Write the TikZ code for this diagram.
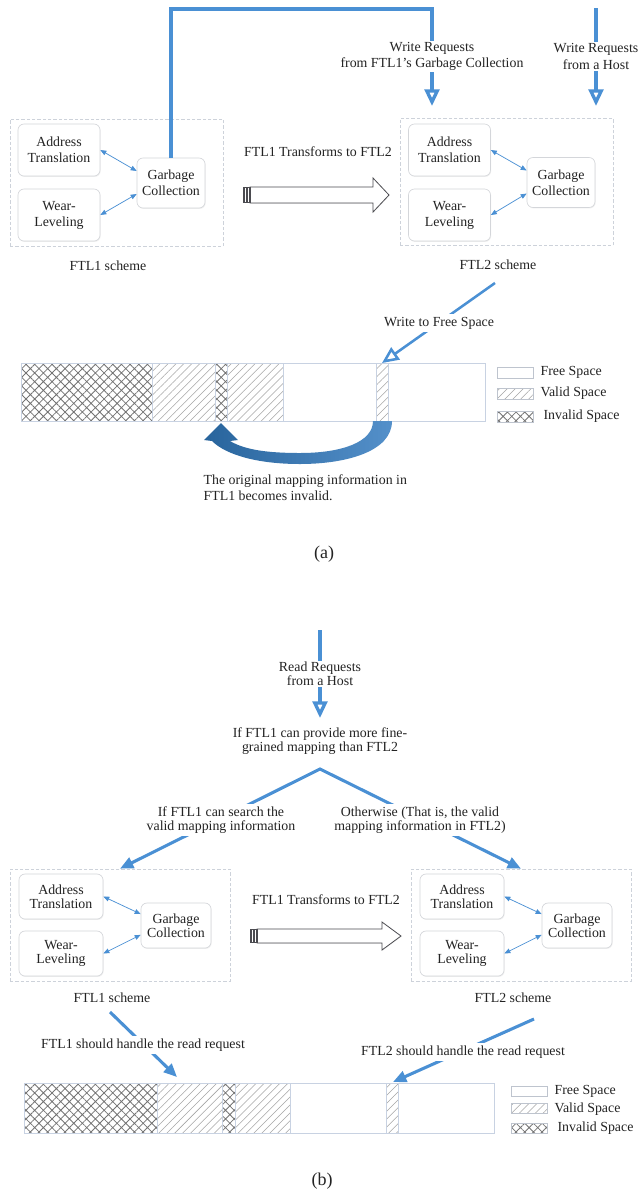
\documentclass[tikz,border=0pt]{standalone}
\usepackage{fontspec}
\setmainfont{Liberation Serif}
\usetikzlibrary{arrows.meta,patterns.meta,shadows,calc}

\definecolor{lineblue}{RGB}{74,144,212}
\definecolor{boxline}{RGB}{212,214,218}
\definecolor{dashc}{RGB}{205,210,218}
\definecolor{txtc}{RGB}{35,35,35}
\definecolor{bigdark}{RGB}{40,100,156}
\definecolor{biglight}{RGB}{84,144,202}
\definecolor{barline}{RGB}{200,210,226}
\definecolor{validc}{RGB}{165,165,165}
\definecolor{invalidc}{RGB}{115,115,115}
\definecolor{fatc}{RGB}{75,75,80}
\definecolor{keyline}{RGB}{190,196,206}

\begin{document}
\begin{tikzpicture}[x=0.75pt,y=-0.75pt,
  lbl/.style={font=\fontsize{10.4}{12.4}\selectfont, text=txtc, align=center, inner sep=1pt},
  lblb/.style={lbl, font=\fontsize{10.4}{10.5}\selectfont},
  cutout/.style={fill=white, inner sep=2pt},
  unit/.style={draw=boxline, line width=0.5pt, rounded corners=4.5pt, fill=white,
    align=center, text=txtc, inner sep=1pt,
    drop shadow={opacity=0.12, shadow xshift=0.5pt, shadow yshift=-0.7pt}},
  unita/.style={unit, font=\fontsize{10.4}{12}\selectfont, minimum width=61.5pt, minimum height=39pt},
  gca/.style={unita, minimum width=51pt, minimum height=37.5pt},
  unitb/.style={unit, font=\fontsize{10.4}{10.5}\selectfont, minimum width=63pt, minimum height=33.75pt},
  gcb/.style={unitb, minimum width=52.5pt},
  holder/.style={draw=dashc, line width=0.5pt, dash pattern=on 2.5pt off 1.5pt, inner sep=0pt},
  holdera/.style={holder, minimum width=159.75pt, minimum height=95.5pt},
  holderb/.style={holder, minimum width=165pt, minimum height=84pt},
  flow/.style={draw=lineblue, line width=2.5pt},
  openflow/.style={flow, -{Triangle[open, length=12.5pt, width=11pt]}},
  solidflow/.style={flow, line width=2.3pt, -{Triangle[length=10pt, width=8.5pt]}},
  link/.style={draw=lineblue, line width=0.55pt,
    {Triangle[length=4.5pt,width=3.6pt]}-{Triangle[length=4.5pt,width=3.6pt]}},
  fatarrow/.style={draw=fatc, line width=0.6pt, fill=white,
    drop shadow={opacity=0.1, shadow xshift=0.4pt, shadow yshift=-0.6pt}},
  gripblock/.style={fill=fatc},
  gripgap/.style={draw=white, line width=0.5pt},
  seg/.style={draw=barline, line width=0.5pt},
  validfill/.style={pattern={Lines[angle=45,distance=4.2pt,line width=0.4pt]}, pattern color=validc},
  invalidfill/.style={pattern={Hatch[angle=45,distance=4.6pt,line width=0.6pt]}, pattern color=invalidc},
  key/.style={draw=keyline, line width=0.5pt, minimum width=27pt, minimum height=8.25pt, inner sep=0pt,
    drop shadow={opacity=0.1, shadow xshift=0.4pt, shadow yshift=-0.5pt},
    preaction={fill=white}},
  keyb/.style={key, minimum height=7.5pt},
  keytxt/.style={lbl, anchor=west, align=left},
  caption/.style={font=\fontsize{13.5}{16}\selectfont, text=txtc}
]
\useasboundingbox[fill=white] (0,0) rectangle (638,1197);

%% ---------------- panel (a): write path ----------------
% FTL1 and FTL2 module groups
\node[holdera] (c1) at (116.5,182.5) {};
\node[unita] (at1) at (59,150) {Address\\Translation};
\node[unita] (wl1) at (59,215) {Wear-\\Leveling};
\node[gca]   (gc1) at (171,183) {Garbage\\Collection};
\draw[link] (at1.east) -- ([yshift=9pt]gc1.west);
\draw[link] (wl1.east) -- ([yshift=-8.25pt]gc1.west);
\node[lbl] (s1) at (108,266) {FTL1 scheme};

\node[holdera] (c2) at (506.5,182) {};
\node[unita] (at2) at (449.5,150) {Address\\Translation};
\node[unita] (wl2) at (449.5,215) {Wear-\\Leveling};
\node[gca]   (gc2) at (561,182.5) {Garbage\\Collection};
\draw[link] (at2.east) -- ([yshift=9pt]gc2.west);
\draw[link] (wl2.east) -- ([yshift=-8.25pt]gc2.west);
\node[lbl] (s2) at (498,265) {FTL2 scheme};

% transformation arrow
\node[lbl] (tf1) at (318,152) {FTL1 Transforms to FTL2};
\draw[fatarrow] (250,187) -- (373,187) -- (373,178) -- (389,195) -- (373,212) -- (373,203) -- (250,203) -- cycle;
\fill[gripblock] (243,187) rectangle (250.5,203);
\draw[gripgap] (245.6,187.8) -- (245.6,202.2) (248.2,187.8) -- (248.2,202.2);

% write requests
\node[lbl] (wr1) at (432,56.5) {Write Requests\\from FTL1{\char39}s Garbage Collection};
\node[lbl] (wr2) at (596,56.5) {Write Requests\\from a Host};
\coordinate (turn) at (300,9);
\coordinate (t1) at (432,106);
\coordinate (host) at (596,8);
\coordinate (t2) at (596,106);
\draw[flow, line join=miter] (gc1.north) |- (turn) -| (wr1.north);
\draw[openflow] (wr1.south) -- (t1);
\draw[flow] (host) -- (wr2.north);
\draw[openflow] (wr2.south) -- (t2);

% flash space
\draw[seg, invalidfill] (21,363) rectangle (152,421);
\draw[seg, validfill]   (152,363) rectangle (215,421);
\draw[seg, invalidfill] (215,363) rectangle (227,421);
\draw[seg, validfill]   (227,363) rectangle (283,421);
\draw[seg, fill=white]  (283,363) rectangle (376,421);
\draw[seg, validfill]   (376,363) rectangle (388,421);
\draw[seg, fill=white]  (388,363) rectangle (485,421);

\coordinate (wf0) at (495,283);
\coordinate (v3) at (382,363);
\draw[openflow, line width=1.9pt] (wf0) -- (v3);
\node[lbl, cutout] (wfl) at (439,323) {Write to Free Space};

% curved arrow back to the old mapping
\shade[left color=bigdark, right color=biglight]
  (392,421) .. controls (392,452) and (345,464) .. (300,464)
  .. controls (258,464) and (226,455) .. (212,441)
  -- (204,440) -- (221,423) -- (238,440) -- (230,441)
  .. controls (245,450) and (268,453) .. (300,453)
  .. controls (342,453) and (373,442) .. (373,421) -- cycle;
\node[lbl, anchor=west, align=left] (note) at (202,487.5)
  {The original mapping information in\\FTL1 becomes invalid.};

% legend
\node[key] (kf1) at (515,372.5) {};
\node[keytxt] (kf1t) at (539,372) {Free Space};
\node[key, validfill] (kv1) at (515,393.5) {};
\node[keytxt] (kv1t) at (539,393) {Valid Space};
\node[key, invalidfill] (ki1) at (515,416.5) {};
\node[keytxt] (ki1t) at (542,416) {Invalid Space};

\node[caption] (capa) at (324,554) {(a)};

%% ---------------- panel (b): read path ----------------
\node[holderb] (c3) at (120,925) {};
\node[unitb] (at3) at (61,896.5) {Address\\Translation};
\node[unitb] (wl3) at (61,953.5) {Wear-\\Leveling};
\node[gcb]   (gc3) at (176,925.5) {Garbage\\Collection};
\draw[link] (at3.east) -- ([yshift=8.6pt]gc3.west);
\draw[link] (wl3.east) -- ([yshift=-7pt]gc3.west);
\node[lblb] (s3) at (112,998) {FTL1 scheme};

\node[holderb] (c4) at (521,925) {};
\node[unitb] (at4) at (462,896.5) {Address\\Translation};
\node[unitb] (wl4) at (462,953.5) {Wear-\\Leveling};
\node[gcb]   (gc4) at (577,925.5) {Garbage\\Collection};
\draw[link] (at4.east) -- ([yshift=8.6pt]gc4.west);
\draw[link] (wl4.east) -- ([yshift=-7pt]gc4.west);
\node[lblb] (s4) at (513,998) {FTL2 scheme};

\node[lblb] (tf2) at (326,900) {FTL1 Transforms to FTL2};
\draw[fatarrow] (257,929) -- (382,929) -- (382,922) -- (401,936) -- (382,950) -- (382,943) -- (257,943) -- cycle;
\fill[gripblock] (250,929) rectangle (257.5,943);
\draw[gripgap] (252.6,929.8) -- (252.6,942.2) (255.2,929.8) -- (255.2,942.2);

% read request and decision
\node[lblb] (rr) at (320,674) {Read Requests\\from a Host};
\coordinate (r0) at (320,630);
\coordinate (r1) at (320,718);
\draw[flow] (r0) -- (rr.north);
\draw[openflow] (rr.south) -- (r1);
\node[lblb] (q) at (320,741) {If FTL1 can provide more fine-\\grained mapping than FTL2};
\coordinate (ap) at (320,769);
\draw[flow, line width=2.3pt, line join=miter,
  {Triangle[length=10pt, width=8.5pt]}-{Triangle[length=10pt, width=8.5pt]}]
  (c3.north) -- (ap) -- (c4.north);
\node[lblb, cutout] (bl) at (221,820) {If FTL1 can search the\\valid mapping information};
\node[lblb, cutout] (br) at (420,820) {Otherwise (That is, the valid\\mapping information in FTL2)};

% flash space
\draw[seg, invalidfill] (24,1083) rectangle (157,1133);
\draw[seg, validfill]   (157,1083) rectangle (222,1133);
\draw[seg, invalidfill] (222,1083) rectangle (235,1133);
\draw[seg, validfill]   (235,1083) rectangle (290,1133);
\draw[seg, fill=white]  (290,1083) rectangle (386,1133);
\draw[seg, validfill]   (386,1083) rectangle (398,1133);
\draw[seg, fill=white]  (398,1083) rectangle (494,1133);

\coordinate (f0) at (110,1012);
\coordinate (f1) at (177,1077);
\draw[solidflow] (f0) -- (f1);
\node[lblb, cutout] (h1) at (143,1045) {FTL1 should handle the read request};
\coordinate (g0) at (534,1019);
\coordinate (g1) at (393,1082);
\draw[solidflow] (g0) -- (g1);
\node[lblb, cutout] (h2) at (463,1052) {FTL2 should handle the read request};

% legend
\node[keyb] (kf2) at (529,1091) {};
\node[keytxt] (kf2t) at (553,1091) {Free Space};
\node[keyb, validfill] (kv2) at (529,1108.5) {};
\node[keytxt] (kv2t) at (553,1109) {Valid Space};
\node[keyb, invalidfill] (ki2) at (529,1128) {};
\node[keytxt] (ki2t) at (556,1128) {Invalid Space};

\node[caption] (capb) at (322,1181) {(b)};
\end{tikzpicture}
\end{document}
